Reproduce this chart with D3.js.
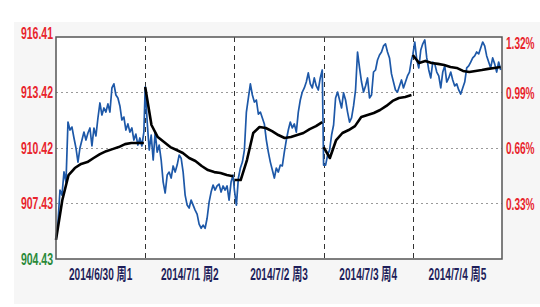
<!DOCTYPE html>
<meta charset="utf-8">
<style>
    body { margin: 0; background: #fff; }
    svg { display: block; }
    .lbl { font-family: "Liberation Sans", Arial, "Noto Sans CJK SC", sans-serif; font-weight: bold; }
</style>
<script src="https://cdn.jsdelivr.net/npm/d3@7"></script>
<svg width="540" height="307"></svg>
<script>
    // eixo esquerdo (preço) e direito (variação %)
    var leftTicks = [904.43, 907.43, 910.42, 913.42, 916.41];
    var rightTicks = [0.33, 0.66, 0.99, 1.32];
    var dayLabels = ["2014/6/30 周1", "2014/7/1 周2", "2014/7/2 周3", "2014/7/3 周4", "2014/7/4 周5"];
    var baseClose = 904.43;

    // preço intradiário (linha azul)
    var price1 = [905.46, 906.42, 908.15, 907.88, 909.13, 908.58, 911.82, 911.39, 911.55, 910.96, 910.42, 909.66, 910.42, 910.85, 911.28,
        910.85, 911.23, 911.50, 910.53, 911.50, 911.07, 912.04, 912.85, 912.20, 912.58, 912.36, 912.80, 912.36, 913.66, 913.88,
        913.28, 913.12, 912.69, 911.93, 912.09, 911.39, 911.72, 911.28, 911.50, 910.85, 911.17, 910.58, 910.96, 910.53, 911.28];
    var price2 = [913.71, 911.82, 910.31, 911.12, 909.77, 911.28, 910.20, 910.58, 909.77, 908.58, 907.99, 908.96, 909.12, 908.80, 909.45,
        909.12, 909.50, 910.04, 909.87, 909.12, 907.88, 907.34, 907.18, 907.61, 907.34, 907.07, 906.85, 906.31, 906.09, 906.26,
        906.09, 906.63, 907.50, 908.04, 908.42, 908.15, 908.37, 908.47, 908.04, 908.37, 908.15, 908.37, 907.61, 908.58, 908.96];
    var price3 = [908.15, 907.34, 908.80, 909.34, 909.66, 910.31, 912.36, 913.12, 913.88, 913.28, 912.90, 913.01, 912.25, 912.36, 912.04,
        911.72, 910.85, 910.20, 909.66, 909.23, 908.80, 909.34, 909.12, 909.50, 909.45, 910.20, 910.85, 911.39, 911.82, 911.50,
        911.72, 911.28, 912.36, 913.01, 913.44, 913.66, 913.98, 914.47, 913.88, 913.66, 914.20, 913.77, 913.55, 914.20, 914.63];
    var price4 = [909.50, 909.50, 910.04, 910.31, 911.12, 911.66, 913.12, 913.44, 913.01, 912.58, 913.39, 913.01, 912.36, 911.82, 912.04,
        912.69, 913.55, 915.60, 914.74, 913.98, 913.44, 913.77, 914.20, 913.12, 913.28, 914.52, 914.63, 915.17, 915.44, 915.60,
        915.93, 916.04, 915.60, 915.28, 914.42, 913.98, 913.55, 913.44, 913.77, 914.09, 913.66, 913.98, 914.31, 914.52, 915.17];
    var price5 = [915.44, 916.14, 915.17, 914.74, 915.71, 916.04, 916.25, 915.28, 914.63, 914.20, 915.06, 914.96, 914.52, 914.31, 913.66,
        914.52, 914.85, 913.98, 914.20, 914.52, 914.09, 913.77, 913.88, 913.55, 913.33, 913.66, 913.98, 914.74, 914.85, 915.06,
        915.28, 915.39, 915.60, 915.50, 915.82, 916.14, 915.93, 915.39, 915.06, 914.74, 915.28, 914.96, 914.52, 915.06, 914.63];

    // preço médio (linha preta)
    var avg1 = [905.46, 907.60, 908.96, 909.34, 909.56, 909.66, 909.88, 910.09, 910.25, 910.36, 910.47, 910.63, 910.69, 910.69, 910.69];
    var avg2 = [913.71, 911.66, 911.01, 910.74, 910.47, 910.31, 910.15, 909.88, 909.72, 909.45, 909.23, 909.12, 909.07, 908.96, 908.90];
    var avg3 = [908.69, 908.69, 909.77, 911.23, 911.55, 911.50, 911.33, 911.12, 910.96, 911.01, 911.12, 911.23, 911.44, 911.60, 911.82];
    var avg4 = [910.47, 909.88, 910.85, 911.23, 911.39, 911.60, 912.09, 912.20, 912.31, 912.47, 912.69, 912.96, 913.12, 913.17, 913.28];
    var avg5 = [915.44, 915.01, 915.12, 915.01, 914.96, 914.90, 914.79, 914.74, 914.58, 914.52, 914.58, 914.63, 914.69, 914.74, 914.79];

    var prices = [price1, price2, price3, price4, price5];
    var avgs = [avg1, avg2, avg3, avg4, avg5];

    var svg = d3.select("svg");
    var plotLeft = 56, plotRight = 502, plotTop = 37, plotBottom = 259;

    // fundo cinza claro do painel
    svg.append("rect").attr("x", 14).attr("y", 22).attr("width", 526).attr("height", 282).attr("fill", "#f6f6f6");

    var x = d3.scaleLinear().domain([0, 5]).range([plotLeft, plotRight]);
    var y = d3.scaleLinear().domain([leftTicks[0], leftTicks[4]]).range([plotBottom, plotTop]);
    var yPct = d3.scaleLinear().domain([0, (leftTicks[4] / baseClose - 1) * 100]).range([plotBottom, plotTop]);

    svg.append("rect").attr("x", plotLeft).attr("y", plotTop)
        .attr("width", plotRight - plotLeft).attr("height", plotBottom - plotTop)
        .attr("fill", "#fff");

    // grade horizontal pontilhada
    svg.selectAll(".hgrid").data(leftTicks.slice(1, 4)).enter().append("line")
        .attr("x1", plotLeft).attr("x2", plotRight)
        .attr("y1", function (d) { return Math.round(y(d)) + 0.5; })
        .attr("y2", function (d) { return Math.round(y(d)) + 0.5; })
        .attr("stroke", "#9a9a9a").attr("stroke-width", 1.2).attr("stroke-dasharray", "2,3");

    // divisões dos dias
    svg.selectAll(".vgrid").data([1, 2, 3, 4]).enter().append("line")
        .attr("x1", function (d) { return Math.round(x(d)) + 0.5; })
        .attr("x2", function (d) { return Math.round(x(d)) + 0.5; })
        .attr("y1", plotTop).attr("y2", plotBottom)
        .attr("stroke", "#333").attr("stroke-width", 1).attr("stroke-dasharray", "5,4");

    function pontos(arr, dia) {
        var n = arr.length;
        return arr.map(function (v, i) { return [dia + i / (n - 1) * 0.985, v]; });
    }

    var line = d3.line()
        .x(function (d) { return x(d[0]); })
        .y(function (d) { return y(d[1]); });

    var azul = [];
    prices.forEach(function (p, dia) { azul = azul.concat(pontos(p, dia)); });

    svg.append("path").datum(azul)
        .attr("d", line)
        .attr("fill", "none").attr("stroke", "#1d58a8").attr("stroke-width", 1.7)
        .attr("stroke-linejoin", "round");

    svg.selectAll(".media").data(avgs).enter().append("path")
        .attr("d", function (a, dia) { return line(pontos(a, dia)); })
        .attr("fill", "none").attr("stroke", "#000").attr("stroke-width", 2.6)
        .attr("stroke-linejoin", "round");

    // moldura
    svg.append("rect").attr("x", plotLeft).attr("y", plotTop)
        .attr("width", plotRight - plotLeft).attr("height", plotBottom - plotTop)
        .attr("fill", "none").attr("stroke", "#555").attr("stroke-width", 1.5);

    // rótulos esquerdos (fonte comprimida na horizontal)
    svg.selectAll(".ylab").data(leftTicks).enter().append("text")
        .attr("class", "lbl")
        .attr("transform", function (d, i) {
            return "translate(53," + (i == 4 ? y(d) - 4 : y(d)) + ") scale(0.75,1.2)";
        })
        .attr("dy", "0.36em")
        .attr("text-anchor", "end")
        .attr("font-size", 14)
        .attr("fill", function (d, i) { return i == 0 ? "#2a8a3a" : "#e8242c"; })
        .text(function (d) { return d.toFixed(2); });

    // rótulos direitos
    svg.selectAll(".plab").data(rightTicks).enter().append("text")
        .attr("class", "lbl")
        .attr("transform", function (d, i) {
            return "translate(506," + (i == 3 ? yPct(d) + 5 : yPct(d)) + ") scale(0.72,1.2)";
        })
        .attr("dy", "0.36em")
        .attr("font-size", 14)
        .attr("fill", "#e8242c")
        .text(function (d) { return d.toFixed(2) + "%"; });

    // rótulos dos dias
    svg.selectAll(".xlab").data(dayLabels).enter().append("text")
        .attr("class", "lbl")
        .attr("transform", function (d, i) { return "translate(" + x(i + 0.5) + ",280) scale(0.72,1.2)"; })
        .attr("text-anchor", "middle")
        .attr("font-size", 14)
        .attr("fill", "#1e1e5a")
        .text(function (d) { return d; });
</script>
